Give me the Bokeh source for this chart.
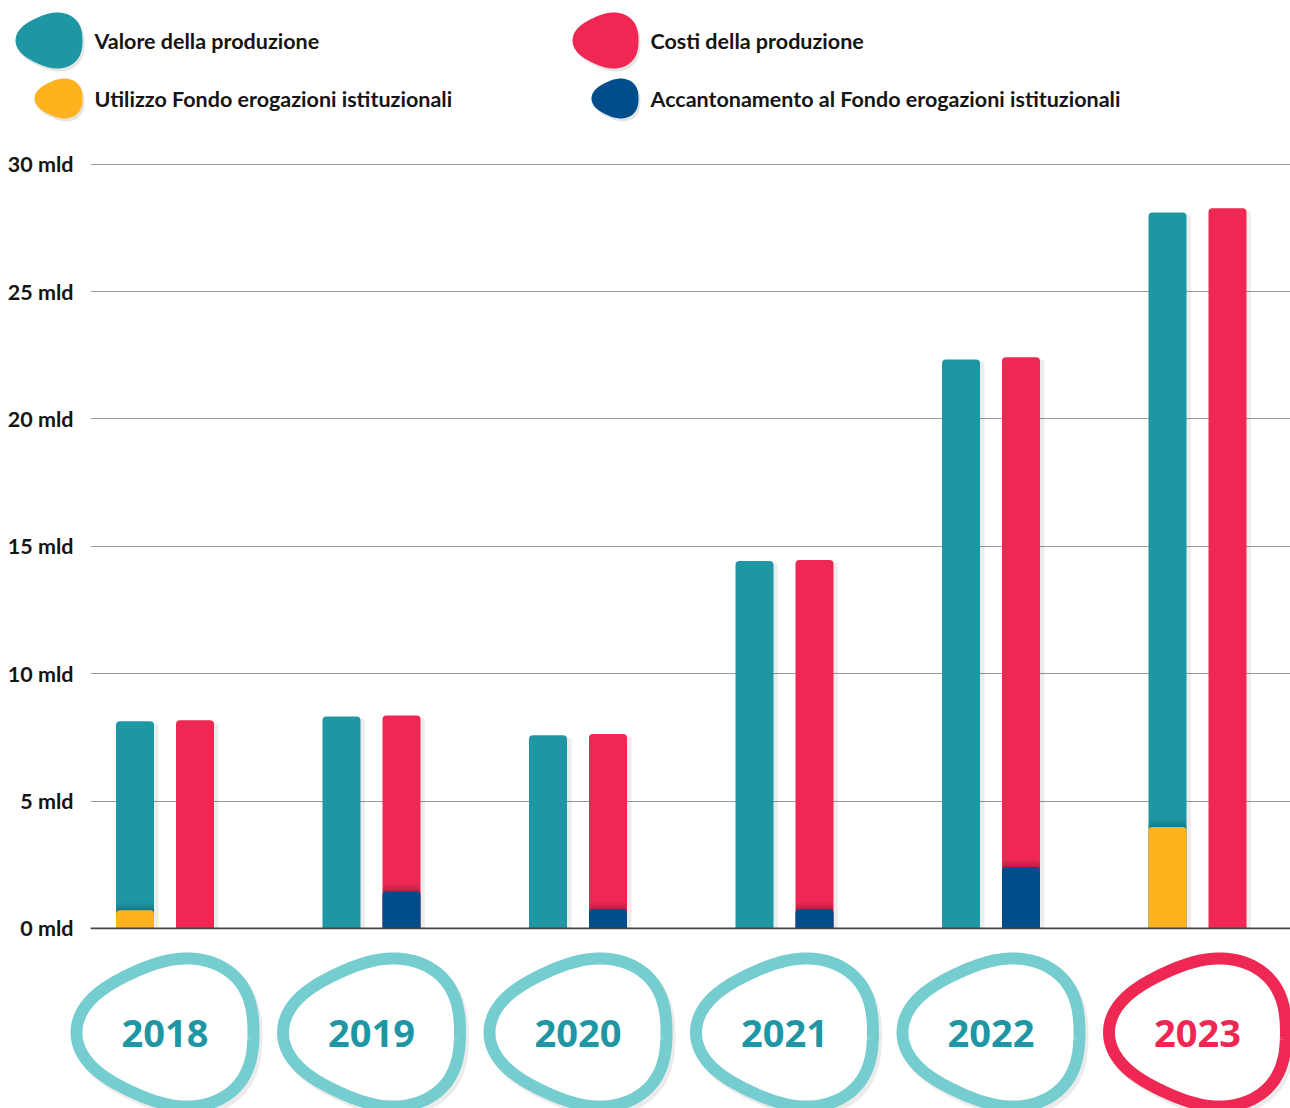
import numpy as np
from bokeh.plotting import figure
from bokeh.layouts import column
from bokeh.models import Range1d, FixedTicker, PrintfTickFormatter, Span
from bokeh.core.properties import value
from bokeh.embed import file_html
from bokeh.resources import INLINE

# ---------------- data ----------------
years = ["2018", "2019", "2020", "2021", "2022", "2023"]
valore = [8.13, 8.32, 7.58, 14.42, 22.33, 28.10]          # Valore della produzione (mld)
costi = [8.17, 8.36, 7.63, 14.46, 22.42, 28.27]           # Costi della produzione (mld)
utilizzo = [0.71, 0.0, 0.0, 0.0, 0.0, 3.98]               # Utilizzo Fondo erogazioni istituzionali
accantonamento = [0.0, 1.45, 0.75, 0.75, 2.41, 0.0]       # Accantonamento al Fondo erogazioni istituzionali
y_ticks = [0, 5, 10, 15, 20, 25, 30]
legend_labels = ["Valore della produzione", "Costi della produzione",
                 "Utilizzo Fondo erogazioni istituzionali",
                 "Accantonamento al Fondo erogazioni istituzionali"]

TEAL = "#1E96A3"
RED = "#EE2852"
YELLOW = "#FDB21E"
BLUE = "#004D8C"
LIGHT_TEAL = "#76CDD0"
TXT = "#151515"

W = 1290
PX_PER_UNIT_X = 206.5          # pixels between year groups
C0 = 164.5                     # pixel centre of the first group
OFF = 30 / PX_PER_UNIT_X       # half distance between the two bars of a group
BW = 38 / PX_PER_UNIT_X        # bar width


def blob(cx, cy, rx, ry, n=180, a3=0.07, rot=np.pi):
    th = np.linspace(0, 2 * np.pi, n, endpoint=False)
    r = 1 + a3 * np.cos(3 * (th - rot))
    x = r * np.cos(th)
    y = r * np.sin(th)
    x = (x - x.min()) / (x.max() - x.min()) * 2 - 1
    y = (y - y.min()) / (y.max() - y.min()) * 2 - 1
    return list(cx + rx * x), list(cy - ry * y)


def bare(fig):
    fig.outline_line_color = None
    fig.grid.visible = False
    return fig


# ---------------- legend figure ----------------
leg = bare(figure(width=W, height=136, x_range=Range1d(0, W), y_range=Range1d(136, 0),
                  output_backend="svg", toolbar_location=None,
                  x_axis_location=None, y_axis_location=None, frame_align=False,
                  min_border=0, min_border_left=0, min_border_right=0,
                  min_border_top=0, min_border_bottom=0))

leg_items = [  # (center x, center y, rx, ry, color, text x)
    (48.5, 40, 33.5, 28, TEAL, 94),
    (605, 40, 33, 28, RED, 650),
    (58, 98, 24, 20, YELLOW, 94),
    (614.5, 98, 23.5, 20, BLUE, 650),
]
for (cx, cy, rx, ry, col, tx), lab in zip(leg_items, legend_labels):
    sx, sy = blob(cx + 2, cy + 3, rx, ry)
    leg.patch(sx, sy, fill_color="black", fill_alpha=0.10, line_color=None)
    bx, by = blob(cx, cy, rx, ry)
    leg.patch(bx, by, fill_color=col, line_color=None)
    leg.text(x=[tx], y=[cy], text=[lab], text_font=value("Lato"), text_font_style="bold",
             text_font_size="21.5px", text_color=TXT, text_baseline="middle", text_align="left")

# ---------------- main bar figure ----------------
x0 = -(C0 - 90) / PX_PER_UNIT_X
x1 = (W - C0) / PX_PER_UNIT_X
p = figure(width=W, height=809, x_range=Range1d(x0, x1), y_range=Range1d(-0.2, 30.3),
           output_backend="svg", toolbar_location=None, frame_align=False,
           x_axis_location=None, y_axis_location="left",
           min_border_left=90, min_border_right=0, min_border_top=20, min_border_bottom=12)
p.outline_line_color = None
p.xgrid.visible = False
p.ygrid.grid_line_color = "#9a9a9a"
p.ygrid.grid_line_width = 1.2
p.ygrid.ticker = FixedTicker(ticks=y_ticks)
p.yaxis.ticker = FixedTicker(ticks=y_ticks)
p.yaxis.formatter = PrintfTickFormatter(format="%d mld")
p.yaxis.axis_line_color = None
p.yaxis.major_tick_line_color = None
p.yaxis.minor_tick_line_color = None
p.yaxis.major_label_standoff = 11
p.yaxis.major_label_text_font = "Lato"
p.yaxis.major_label_text_font_style = "bold"
p.yaxis.major_label_text_font_size = "21.5px"
p.yaxis.major_label_text_color = TXT

idx = np.arange(len(years))
xt = idx - OFF
xr = idx + OFF
shift = 2.5 / PX_PER_UNIT_X
wide = 4 / PX_PER_UNIT_X
rad = (4, 4, 0, 0)

# drop shadows
p.vbar(x=xt + shift, top=np.array(valore) - 0.08, bottom=0, width=BW + wide,
       fill_color="black", fill_alpha=0.07, line_color=None, border_radius=rad)
p.vbar(x=xr + shift, top=np.array(costi) - 0.08, bottom=0, width=BW + wide,
       fill_color="black", fill_alpha=0.07, line_color=None, border_radius=rad)

p.vbar(x=xt, top=valore, bottom=0, width=BW, fill_color=TEAL, line_color=None, border_radius=rad)
p.vbar(x=xr, top=costi, bottom=0, width=BW, fill_color=RED, line_color=None, border_radius=rad)

u = np.array(utilizzo)
a = np.array(accantonamento)
mu = u > 0
ma = a > 0
# soft shadows cast by the overlay segments
for extra, alpha in [(0.28, 0.05), (0.18, 0.06), (0.09, 0.08)]:
    p.vbar(x=xt[mu], top=u[mu] + extra, bottom=0, width=BW, fill_color="black", fill_alpha=alpha,
           line_color=None, border_radius=rad)
    p.vbar(x=xr[ma], top=a[ma] + extra, bottom=0, width=BW, fill_color="black", fill_alpha=alpha,
           line_color=None, border_radius=rad)
p.vbar(x=xt[mu], top=u[mu], bottom=0, width=BW, fill_color=YELLOW, line_color=None, border_radius=rad)
p.vbar(x=xr[ma], top=a[ma], bottom=0, width=BW, fill_color=BLUE, line_color=None, border_radius=rad)

p.add_layout(Span(location=0, dimension="width", line_color="#444444", line_width=1.6))

# ---------------- year blobs figure ----------------
yx0 = -C0 / PX_PER_UNIT_X
yr = bare(figure(width=W, height=163, x_range=Range1d(yx0, x1), y_range=Range1d(1108, 945),
                 output_backend="svg", toolbar_location=None, frame_align=False,
                 x_axis_location=None, y_axis_location=None,
                 min_border=0, min_border_left=0, min_border_right=0,
                 min_border_top=0, min_border_bottom=0))

for i, yv in enumerate(years):
    last = i == len(years) - 1
    col = RED if last else LIGHT_TEAL
    tcol = RED if last else TEAL
    rxu = 88.5 / PX_PER_UNIT_X
    sx, sy = blob(i + 3 / PX_PER_UNIT_X, 1036, rxu, 74)
    yr.patch(sx, sy, fill_color=None, line_color="black", line_alpha=0.08, line_width=12)
    bx, by = blob(i, 1032, rxu, 74)
    yr.patch(bx, by, fill_color="white", line_color=col, line_width=12)
    yr.text(x=[i], y=[1033], text=[yv], text_font=value("Open Sans"), text_font_style="bold",
            text_font_size="38px", text_color=tcol, text_align="center", text_baseline="middle")

layout = column(leg, p, yr, spacing=0)
open("out.html", "w").write(file_html(layout, INLINE))
